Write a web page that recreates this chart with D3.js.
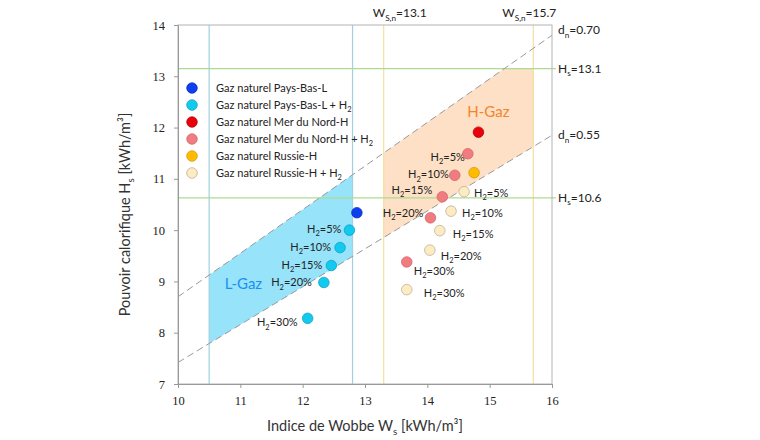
<!DOCTYPE html>
<head>
    <meta charset="utf-8">
    <script src="https://d3js.org/d3.v7.min.js"></script>
    <style>
        body { margin: 0; background: #fff; }
        text { font-family: Lato, "Open Sans", sans-serif; }
    </style>
</head>

<body>
    <div id="chart"></div>
</body>

<script>

    // ---- data ----
    const xTicks = [10, 11, 12, 13, 14, 15, 16];
    const yTicks = [7, 8, 9, 10, 11, 12, 13, 14];

    const h2Labels = ["5%", "10%", "15%", "20%", "30%"];

    const paysBasL_Ws = [12.87];
    const paysBasL_Hs = [10.34];
    const paysBasLH2_Ws = [12.75, 12.60, 12.46, 12.34, 12.08];
    const paysBasLH2_Hs = [10.00, 9.66, 9.31, 8.98, 8.28];

    const merNord_Ws = [14.82];
    const merNord_Hs = [11.91];
    const merNordH2_Ws = [14.65, 14.44, 14.24, 14.05, 13.67];
    const merNordH2_Hs = [11.49, 11.07, 10.65, 10.24, 9.38];

    const russie_Ws = [14.75];
    const russie_Hs = [11.12];
    const russieH2_Ws = [14.59, 14.38, 14.20, 14.04, 13.67];
    const russieH2_Hs = [10.75, 10.37, 9.99, 9.61, 8.84];

    const legendNames = [
        ["Gaz naturel Pays-Bas-L", ""],
        ["Gaz naturel Pays-Bas-L + H", "2"],
        ["Gaz naturel Mer du Nord-H", ""],
        ["Gaz naturel Mer du Nord-H + H", "2"],
        ["Gaz naturel Russie-H", ""],
        ["Gaz naturel Russie-H + H", "2"]
    ];

    // limit lines
    const wsLimitsL = [10.5, 12.8];
    const wsLimitsH = [13.3, 15.7];
    const hsLimits = [13.15, 10.63];
    const dn070 = [[10, 8.70], [16, 13.80]];
    const dn055 = [[10, 7.42], [16, 11.85]];

    // ---- layout ----
    const W = 760, H = 440;
    const margin = {top: 25, right: 208, bottom: 56, left: 178},
        width = W - margin.left - margin.right,
        height = H - margin.top - margin.bottom;

    const svg = d3.select("#chart")
        .append("svg")
            .attr("width", W)
            .attr("height", H);
    const g = svg.append("g")
            .attr("transform", `translate(${margin.left},${margin.top})`);

    const x = d3.scaleLinear().domain([10, 16]).range([0, width]);
    const y = d3.scaleLinear().domain([7, 14]).range([height, 0]);

    const colors = ["#0b3ff0", "#12c9ee", "#e8000b", "#f07c80", "#ffbb00", "#fdebc2"];
    const strokes = ["#0a2fb0", "#0b9cc0", "#b00008", "#d06064", "#d09400", "#b8a890"];

    // point on a straight dashed line at a given Ws
    function onLine(l, w) {
        const t = (w - l[0][0]) / (l[1][0] - l[0][0]);
        return l[0][1] + t * (l[1][1] - l[0][1]);
    }
    function wsAt(l, h) {
        const t = (h - l[0][1]) / (l[1][1] - l[0][1]);
        return l[0][0] + t * (l[1][0] - l[0][0]);
    }

    const area = d3.line().x(d => x(d[0])).y(d => y(d[1]));

    // L-Gaz region
    const lRegion = [
        [wsLimitsL[0], onLine(dn055, wsLimitsL[0])],
        [wsLimitsL[0], onLine(dn070, wsLimitsL[0])],
        [wsLimitsL[1], onLine(dn070, wsLimitsL[1])],
        [wsLimitsL[1], onLine(dn055, wsLimitsL[1])]
    ];
    g.append("path")
        .attr("d", area(lRegion) + "Z")
        .attr("fill", "#96e3fa");

    // H-Gaz region
    const hRegion = [
        [wsLimitsH[0], onLine(dn055, wsLimitsH[0])],
        [wsLimitsH[0], onLine(dn070, wsLimitsH[0])],
        [wsAt(dn070, hsLimits[0]), hsLimits[0]],
        [wsLimitsH[1], hsLimits[0]],
        [wsLimitsH[1], onLine(dn055, wsLimitsH[1])]
    ];
    g.append("path")
        .attr("d", area(hRegion) + "Z")
        .attr("fill", "#fde0c5");

    // vertical limit lines
    g.selectAll(".vl")
        .data(wsLimitsL)
        .join("line")
            .attr("x1", d => x(d)).attr("x2", d => x(d))
            .attr("y1", 0).attr("y2", height)
            .attr("stroke", "#9fd2de").attr("stroke-width", 1.2);
    g.selectAll(".vh")
        .data(wsLimitsH)
        .join("line")
            .attr("x1", d => x(d)).attr("x2", d => x(d))
            .attr("y1", 0).attr("y2", height)
            .attr("stroke", "#f3df9e").attr("stroke-width", 1.2);

    // horizontal limit lines (run a bit past the frame)
    g.selectAll(".hl")
        .data(hsLimits)
        .join("line")
            .attr("x1", 0).attr("x2", width + 4)
            .attr("y1", d => y(d)).attr("y2", d => y(d))
            .attr("stroke", "#addb90").attr("stroke-width", 1.2);

    // dashed density lines
    g.selectAll(".dn")
        .data([dn070, dn055])
        .join("path")
            .attr("d", d => area(d))
            .attr("fill", "none")
            .attr("stroke", "#999")
            .attr("stroke-width", 1)
            .attr("stroke-dasharray", "7,4");

    // frame
    g.append("rect")
        .attr("width", width).attr("height", height)
        .attr("fill", "none").attr("stroke", "#b4b4b4");

    // axes
    const xAxis = g.append("g")
        .attr("transform", `translate(0,${height})`)
        .call(d3.axisBottom(x).tickValues(xTicks).tickFormat(d3.format("d")).tickSize(4).tickPadding(8));
    const yAxis = g.append("g")
        .call(d3.axisLeft(y).tickValues(yTicks).tickFormat(d3.format("d")).tickSize(4).tickPadding(9));
    [xAxis, yAxis].forEach(a => {
        a.select(".domain").attr("stroke", "#999");
        a.selectAll(".tick line").attr("stroke", "#999");
        a.selectAll(".tick text")
            .attr("fill", "#222")
            .style("font-family", "'Liberation Serif', serif")
            .style("font-size", "12.5px");
    });

    // region labels
    g.append("text")
        .attr("x", x(11.05)).attr("y", y(8.85))
        .attr("text-anchor", "middle")
        .attr("fill", "#1a8ff2")
        .style("font-size", "15px")
        .text("L-Gaz");
    g.append("text")
        .attr("x", x(14.98)).attr("y", y(12.2))
        .attr("text-anchor", "middle")
        .attr("fill", "#f5842e")
        .style("font-size", "15px")
        .text("H-Gaz");

    // text with subscript helper
    function subText(sel, main, sub, rest, size) {
        sel.append("tspan").text(main);
        sel.append("tspan").text(sub)
            .attr("dy", size * 0.3)
            .style("font-size", (size * 0.68) + "px");
        if (rest !== undefined) {
            sel.append("tspan").text(rest).attr("dy", -size * 0.3);
        }
    }

    // point labels: offsets in px [dx, dy, anchor] per point
    const labelPosL = [[-8, 3, "end"], [-9, 3, "end"], [-9, 3, "end"], [-12, 4, "end"], [-10, 8, "end"]];
    const labelPosNord = [[-3, 7, "end"], [-6, 3, "end"], [-10, -3, "end"], [-7, -1, "end"], [7, 13, "start"]];
    const labelPosRussie = [[10, 5, "start"], [11, 6, "start"], [13, 7, "start"], [11, 10, "start"], [17, 7, "start"]];

    function drawLabels(wsArr, hsArr, pos) {
        wsArr.forEach((w, i) => {
            const t = g.append("text")
                .attr("x", x(w) + pos[i][0])
                .attr("y", y(hsArr[i]) + pos[i][1])
                .attr("text-anchor", pos[i][2])
                .attr("fill", "#222")
                .style("font-size", "11px");
            subText(t, "H", "2", "=" + h2Labels[i], 11);
        });
    }
    drawLabels(paysBasLH2_Ws, paysBasLH2_Hs, labelPosL);
    drawLabels(merNordH2_Ws, merNordH2_Hs, labelPosNord);
    drawLabels(russieH2_Ws, russieH2_Hs, labelPosRussie);

    // points
    const series = [
        [paysBasL_Ws, paysBasL_Hs],
        [paysBasLH2_Ws, paysBasLH2_Hs],
        [merNord_Ws, merNord_Hs],
        [merNordH2_Ws, merNordH2_Hs],
        [russie_Ws, russie_Hs],
        [russieH2_Ws, russieH2_Hs]
    ];
    series.forEach((s, k) => {
        g.selectAll(".p" + k)
            .data(s[0].map((w, i) => [w, s[1][i]]))
            .join("circle")
                .attr("cx", d => x(d[0]))
                .attr("cy", d => y(d[1]))
                .attr("r", 5.3)
                .attr("fill", colors[k])
                .attr("stroke", strokes[k])
                .attr("stroke-width", 0.7);
    });

    // legend
    const legend = svg.append("g").attr("transform", "translate(192,88)");
    legendNames.forEach((n, i) => {
        const row = legend.append("g").attr("transform", `translate(0,${i * 17})`);
        row.append("circle")
            .attr("r", 5.3)
            .attr("fill", colors[i])
            .attr("stroke", strokes[i])
            .attr("stroke-width", 0.7);
        const t = row.append("text")
            .attr("x", 24).attr("y", 4)
            .attr("fill", "#222")
            .style("font-size", "11px");
        if (n[1]) subText(t, n[0], n[1], undefined, 11);
        else t.text(n[0]);
    });

    // annotations on the frame
    const ann = svg.append("g").attr("fill", "#222").style("font-size", "12px");
    function annSub(xp, yp, main, sub, rest, anchor) {
        const t = ann.append("text")
            .attr("x", xp).attr("y", yp)
            .attr("text-anchor", anchor || "start");
        subText(t, main, sub, rest, 12);
    }
    annSub(margin.left + x(13.3) + 16, 17, "W", "S,n", "=13.1", "middle");
    annSub(margin.left + x(15.7) - 4, 17, "W", "S,n", "=15.7", "middle");
    annSub(margin.left + width + 6, margin.top + y(dn070[1][1]) - 1, "d", "n", "=0.70");
    annSub(margin.left + width + 6, margin.top + y(hsLimits[0]) + 4, "H", "s", "=13.1");
    annSub(margin.left + width + 6, margin.top + y(dn055[1][1]) + 4, "d", "n", "=0.55");
    annSub(margin.left + width + 6, margin.top + y(hsLimits[1]) + 4, "H", "s", "=10.6");

    // axis titles
    const xt = svg.append("text")
        .attr("x", margin.left + width / 2)
        .attr("y", 431)
        .attr("text-anchor", "middle")
        .attr("fill", "#333")
        .style("font-size", "14.5px");
    subText(xt, "Indice de Wobbe W", "s", " [kWh/m³]", 14.5);

    const yt = svg.append("text")
        .attr("transform", `translate(130,${margin.top + height / 2 + 10}) rotate(-90)`)
        .attr("text-anchor", "middle")
        .attr("fill", "#333")
        .style("font-size", "14.5px");
    subText(yt, "Pouvoir calorifique H", "s", " [kWh/m³]", 14.5);

</script>
</html>
